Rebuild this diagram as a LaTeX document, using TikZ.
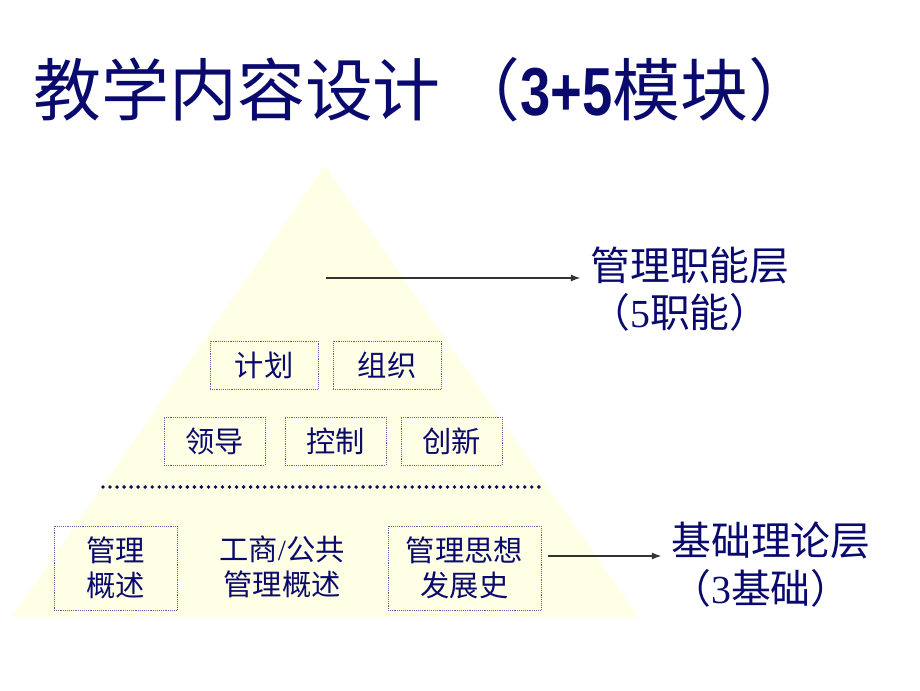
\documentclass[tikz,border=0pt]{standalone}
\usepackage{fontspec}
\setmainfont{Liberation Serif}
\newfontfamily\cjk{Noto Sans CJK SC}
\newfontfamily\numfont[FakeStretch=0.8]{Liberation Sans}
\usetikzlibrary{arrows.meta}
\definecolor{navy}{RGB}{10,10,110}
\definecolor{pale}{RGB}{255,255,230}
\definecolor{boxline}{RGB}{100,100,160}
\tikzset{
  heading/.style={text=navy,inner sep=0pt,anchor=west,font=\cjk\fontsize{58}{60}\selectfont},
  module/.style={draw=boxline,densely dotted,line width=0.6pt,text=navy,inner sep=0pt,
    align=center,font=\cjk\fontsize{25}{30}\selectfont},
  layer/.style={text=navy,inner sep=0.3cm,font=\cjk\fontsize{34}{40}\selectfont},
  link/.style={-{Latex[length=8pt,width=6pt]},line width=0.9pt,draw=black!80}
}
\begin{document}
\begin{tikzpicture}[x=0.03cm,y=-0.03cm]
\useasboundingbox (0,0) rectangle (920,690);
\node[heading] (title) at (33,90) {教学内容设计\,（{\numfont\bfseries 3+5}模块）};
\fill[pale] (325,166) -- (638,617) -- (12,617) -- cycle;
\node[module,minimum width=3.24cm,minimum height=1.44cm] (plan) at (264,365) {计划};
\node[module,minimum width=3.24cm,minimum height=1.44cm] (organize) at (387,365) {组织};
\node[module,minimum width=3.03cm,minimum height=1.44cm] (lead) at (214.5,441) {领导};
\node[module,minimum width=3.03cm,minimum height=1.44cm] (control) at (335.5,441) {控制};
\node[module,minimum width=3.03cm,minimum height=1.44cm] (innovate) at (451.5,441) {创新};
\draw[navy,line width=3.3pt,line cap=round,dash pattern=on 0pt off 6pt] (103,487) -- (543,487);
\node[module,minimum width=3.69cm,minimum height=2.52cm] (intro) at (115.5,568) {管理\\概述};
\node[module,draw=none,minimum width=4.2cm,minimum height=2.52cm] (sector) at (282,567) {工商{\rmfamily/}公共\\管理概述};
\node[module,minimum width=4.59cm,minimum height=2.52cm] (history) at (464.5,568) {管理思想\\发展史};
\node[layer] (upper) at (690,265) {管理职能层};
\node[layer] (uppernote) at (680,312) {（{\rmfamily 5}职能）};
\node[layer] (base) at (771,540) {基础理论层};
\node[layer] (basenote) at (761,588) {（{\rmfamily 3}基础）};
\coordinate (apex) at (326,278);
\coordinate (hist) at (548,556);
\draw[link] (apex) -- (apex -| upper.west);
\draw[link] (hist) -- (hist -| base.west);
\end{tikzpicture}
\end{document}
